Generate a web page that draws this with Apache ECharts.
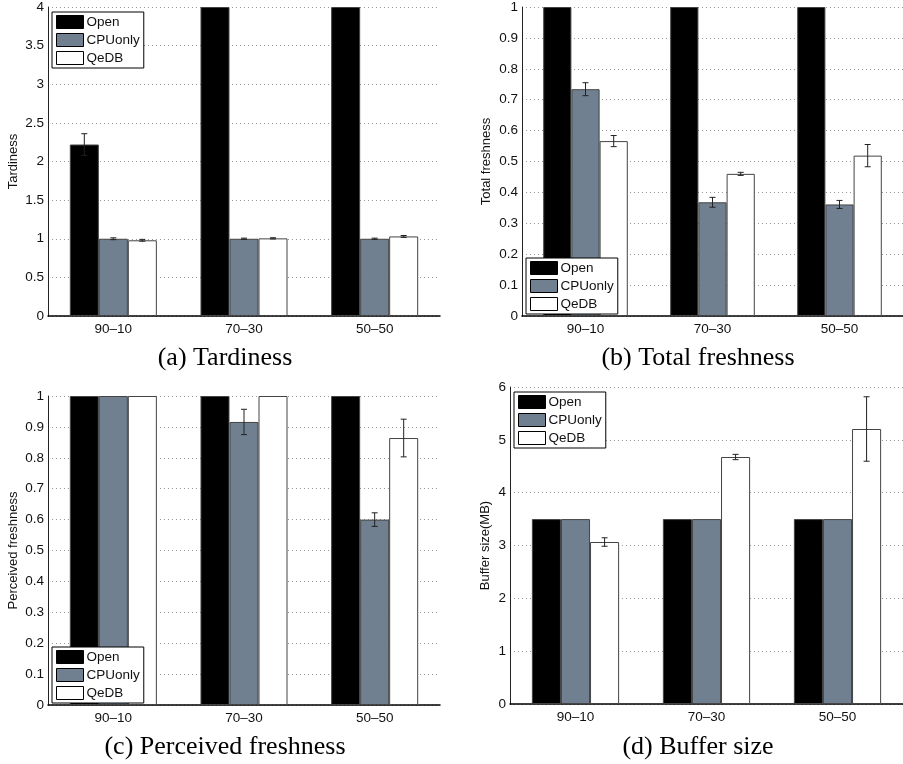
<!DOCTYPE html>
<html>
<head>
<meta charset="utf-8">
<title>Open / CPUonly / QeDB</title>
<script src="https://cdn.jsdelivr.net/npm/echarts@6/dist/echarts.min.js"></script>
<style>
  html, body { margin: 0; padding: 0; background: #fff; }
  #main { width: 903px; height: 764px; }
</style>
</head>
<body>
<div id="main"></div>
<script>
/* ---------- data ---------- */
var categories = ['90–10', '70–30', '50–50'];
var seriesNames = ['Open', 'CPUonly', 'QeDB'];

// (a) Tardiness  (Open goes off the top of the axis for 70-30 and 50-50)
var tardOpen = [2.22, 4, 4];
var tardOpenErr = [0.14, 0, 0];
var tardCpu = [1.0, 1.0, 1.0];
var tardCpuErr = [0.012, 0.008, 0.008];
var tardQedb = [0.98, 1.005, 1.03];
var tardQedbErr = [0.012, 0.008, 0.012];

// (b) Total freshness
var totalOpen = [1, 1, 1];
var totalCpu = [0.734, 0.368, 0.361];
var totalCpuErr = [0.021, 0.016, 0.013];
var totalQedb = [0.566, 0.460, 0.519];
var totalQedbErr = [0.018, 0.005, 0.036];

// (c) Perceived freshness
var percOpen = [1, 1, 1];
var percCpu = [1, 0.916, 0.600];
var percCpuErr = [0, 0.041, 0.022];
var percQedb = [1, 1, 0.864];
var percQedbErr = [0, 0, 0.061];

// (d) Buffer size
var bufOpen = [3.5, 3.5, 3.5];
var bufCpu = [3.5, 3.5, 3.5];
var bufQedb = [3.066, 4.675, 5.205];
var bufQedbErr = [0.08, 0.05, 0.61];

var captions = ['(a) Tardiness', '(b) Total freshness', '(c) Perceived freshness', '(d) Buffer size'];
var yNames = ['Tardiness', 'Total freshness', 'Perceived freshness', 'Buffer size(MB)'];

/* ---------- styles ---------- */
var colors = ['#000000', '#708090', '#ffffff'];
var BAR_RATIO = 0.222;
var sansFont = 'Liberation Sans, Arial, Helvetica, sans-serif';

var chart = echarts.init(document.getElementById('main'));

var grids = [
    {left: 48, top: 7, width: 392, height: 309},
    {left: 522, top: 7, width: 391, height: 309},
    {left: 48, top: 396, width: 392, height: 309},
    {left: 510, top: 387, width: 403, height: 317}
];
var yRanges = [
    {max: 4, interval: 0.5, gap: 28},
    {max: 1, interval: 0.1, gap: 29},
    {max: 1, interval: 0.1, gap: 28},
    {max: 6, interval: 1, gap: 18}
];

var xAxes = [];
var yAxes = [];
for (var i = 0; i < 4; i++) {
    xAxes.push({
        gridIndex: i,
        type: 'category',
        data: categories,
        axisTick: {show: false},
        axisLine: {lineStyle: {color: '#000', width: 1.5}},
        axisLabel: {color: '#111', fontSize: 13.5, fontFamily: sansFont, margin: 6}
    });
    yAxes.push({
        gridIndex: i,
        type: 'value',
        min: 0,
        max: yRanges[i].max,
        interval: yRanges[i].interval,
        name: yNames[i],
        nameLocation: 'middle',
        nameGap: yRanges[i].gap,
        nameRotate: 90,
        nameTextStyle: {color: '#111', fontSize: 13, fontFamily: sansFont},
        axisLine: {show: true, lineStyle: {color: '#222', width: 1}},
        axisTick: {show: false},
        axisLabel: {color: '#111', fontSize: 13.5, fontFamily: sansFont, margin: 4},
        splitLine: {show: true, lineStyle: {color: '#999', type: [1, 3], width: 1}}
    });
}

function makeBars(g, open, cpu, qedb) {
    var vals = [open, cpu, qedb];
    var out = [];
    for (var k = 0; k < 3; k++) {
        out.push({
            name: seriesNames[k],
            type: 'bar',
            xAxisIndex: g,
            yAxisIndex: g,
            barWidth: (BAR_RATIO * 100) + '%',
            barGap: '0%',
            clip: true,
            itemStyle: {color: colors[k], borderColor: '#444', borderWidth: 1},
            emphasis: {disabled: true},
            data: vals[k]
        });
    }
    return out;
}

function errItem(slot) {
    return function (params, api) {
        var cat = api.value(0);
        var v = api.value(1);
        var e = api.value(2);
        var top = api.coord([cat, v + e]);
        var bot = api.coord([cat, v - e]);
        var band = api.size([1, 0])[0];
        var x = top[0] + (slot - 1) * band * BAR_RATIO;
        var cap = 3;
        var st = {stroke: '#222', lineWidth: 1};
        return {
            type: 'group',
            children: [
                {type: 'line', shape: {x1: x, y1: top[1], x2: x, y2: bot[1]}, style: st},
                {type: 'line', shape: {x1: x - cap, y1: top[1], x2: x + cap, y2: top[1]}, style: st},
                {type: 'line', shape: {x1: x - cap, y1: bot[1], x2: x + cap, y2: bot[1]}, style: st}
            ]
        };
    };
}

function makeErr(g, slot, vals, errs) {
    var data = [];
    for (var j = 0; j < vals.length; j++) {
        if (errs[j] > 0) data.push([j, vals[j], errs[j]]);
    }
    return {
        type: 'custom',
        xAxisIndex: g,
        yAxisIndex: g,
        z: 5,
        silent: true,
        renderItem: errItem(slot),
        encode: {x: 0, y: 1},
        data: data
    };
}

var series = [].concat(
    makeBars(0, tardOpen, tardCpu, tardQedb),
    makeBars(1, totalOpen, totalCpu, totalQedb),
    makeBars(2, percOpen, percCpu, percQedb),
    makeBars(3, bufOpen, bufCpu, bufQedb),
    [
        makeErr(0, 0, tardOpen, tardOpenErr),
        makeErr(0, 1, tardCpu, tardCpuErr),
        makeErr(0, 2, tardQedb, tardQedbErr),
        makeErr(1, 1, totalCpu, totalCpuErr),
        makeErr(1, 2, totalQedb, totalQedbErr),
        makeErr(2, 1, percCpu, percCpuErr),
        makeErr(2, 2, percQedb, percQedbErr),
        makeErr(3, 2, bufQedb, bufQedbErr)
    ]
);

/* ---------- legends ---------- */
var legendPos = [
    {left: 52, top: 12},
    {left: 526, top: 258},
    {left: 52, top: 647},
    {left: 514, top: 392}
];
var legends = legendPos.map(function (p) {
    return {
        left: p.left,
        top: p.top,
        orient: 'vertical',
        align: 'left',
        data: seriesNames,
        icon: 'rect',
        itemWidth: 27,
        itemHeight: 13,
        itemGap: 4,
        padding: [3, 4, 3, 4],
        backgroundColor: '#fff',
        borderColor: '#000',
        borderWidth: 1,
        selectedMode: false,
        itemStyle: {borderColor: '#000', borderWidth: 1},
        textStyle: {color: '#111', fontSize: 13.5, fontFamily: sansFont, padding: [0, 0, 0, -2]}
    };
});

/* ---------- captions ---------- */
var capPos = [[225, 358], [698, 358], [225, 747], [698, 747]];
var graphics = captions.map(function (t, i) {
    return {
        type: 'text',
        x: capPos[i][0],
        y: capPos[i][1],
        style: {
            text: t,
            fill: '#000',
            font: '26px "Liberation Serif", "Times New Roman", serif',
            textAlign: 'center',
            textVerticalAlign: 'middle'
        }
    };
});

var option = {
    animation: false,
    backgroundColor: '#fff',
    grid: grids,
    xAxis: xAxes,
    yAxis: yAxes,
    legend: legends,
    graphic: graphics,
    series: series
};
chart.setOption(option);
</script>
</body>
</html>
